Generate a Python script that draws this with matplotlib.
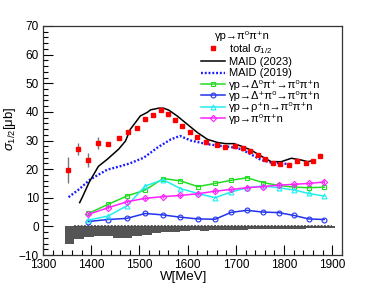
import matplotlib
matplotlib.use('Agg')
import matplotlib.pyplot as plt
from matplotlib.ticker import MultipleLocator
from matplotlib.lines import Line2D
import numpy as np

plt.rcParams['font.family'] = ['Liberation Sans', 'DejaVu Sans']
plt.rcParams['mathtext.fontset'] = 'custom'
plt.rcParams['mathtext.rm'] = 'Liberation Sans'
plt.rcParams['mathtext.it'] = 'Liberation Sans:italic'

# total sigma_1/2 data
W_tot = [1351, 1372, 1393, 1414, 1435, 1457, 1476, 1495, 1512, 1528, 1545, 1559, 1573, 1589, 1604, 1619,
         1639, 1660, 1678, 1699, 1714, 1730, 1745, 1760, 1776, 1792, 1810, 1826, 1846, 1860, 1874]
sig_tot = [19.6, 27.0, 23.2, 29.1, 28.9, 30.9, 32.8, 34.2, 37.4, 38.9, 40.8, 39.3, 37.3, 35.0, 33.0, 31.2,
           29.5, 28.6, 27.7, 28.0, 27.5, 26.3, 24.8, 23.4, 22.3, 21.7, 21.4, 23.0, 22.3, 22.8, 24.6]
err_tot = [4.5, 2.2, 2.5, 2.2] + [0.5] * 27

# MAID 2023
W_m23 = [1376, 1381, 1396, 1415, 1433, 1457, 1471, 1481, 1502, 1516, 1523, 1540, 1550, 1561, 1578,
         1599, 1620, 1641, 1662, 1679, 1696, 1710, 1731, 1752, 1773, 1794, 1815, 1835, 1849, 1863]
sig_m23 = [8.3, 10.0, 15.5, 21.0, 23.4, 27.0, 29.8, 33.9, 38.6, 39.8, 40.7, 41.3, 41.3, 40.6, 38.6,
           35.7, 32.8, 30.4, 29.3, 28.9, 28.9, 28.1, 26.7, 24.6, 22.6, 22.6, 23.8, 23.2, 22.6, 23.1]

# MAID 2019
W_m19 = [1353, 1375, 1398, 1433, 1460, 1480, 1509, 1537, 1565, 1584, 1606, 1625, 1641, 1669, 1690,
         1710, 1731, 1752, 1773, 1794, 1815]
sig_m19 = [10.2, 13.0, 16.4, 19.8, 21.0, 22.0, 24.0, 27.5, 30.4, 31.6, 30.0, 29.3, 28.7, 28.1, 27.7,
           27.0, 25.2, 23.2, 22.3, 22.0, 21.7]

# channel decomposition
W_ch = [1394, 1435, 1474, 1512, 1549, 1585, 1621, 1657, 1690, 1723, 1756, 1789, 1821, 1851, 1883]
delta0_pip = [4.5, 7.7, 10.6, 12.7, 16.7, 15.9, 13.9, 15.0, 16.1, 17.0, 15.3, 14.3, 13.7, 13.5, 13.7]
deltap_pi0 = [1.7, 2.4, 2.8, 4.5, 4.0, 3.2, 2.6, 2.5, 4.9, 5.6, 5.0, 4.8, 3.8, 2.6, 2.4]
rhop_n = [2.2, 3.6, 7.2, 14.1, 16.3, 13.2, 11.5, 10.0, 12.0, 13.5, 14.1, 13.5, 12.7, 11.5, 10.6]
pi0pip_n = [4.2, 6.5, 8.6, 9.8, 10.4, 10.8, 11.4, 12.3, 12.9, 13.5, 13.9, 14.4, 14.7, 15.0, 15.5]
err_pi0pip_n = [0.6] * 15

# systematic band (histogram below zero)
sys_edges = np.arange(1345, 1906, 20)
sys_vals = [-6.0, -4.4, -3.8, -3.4, -3.5, -4.0, -4.0, -3.5, -3.0, -2.3, -2.0, -1.8, -1.6, -1.4,
            -1.5, -1.4, -1.3, -1.2, -1.1, -1.0, -1.0, -0.9, -0.9, -0.8, -0.8, -0.7, -0.7, -0.7]

fig = plt.figure(figsize=(3.74, 2.88), dpi=100)
ax = fig.add_axes([43 / 374, 33 / 288, 299 / 374, 229 / 288])

ax.fill_between(sys_edges, np.append(sys_vals, sys_vals[-1]), 0, step='post',
                color='#555555', lw=0)
ax.plot([1365, 1900], [0, 0], color='#444444', lw=1.2, ls=(0, (1.2, 0.8)))

ax.plot(W_m19, sig_m19, color='#1a1aff', lw=1.7, ls=(0, (0.8, 0.8)))
ax.plot(W_m23, sig_m23, color='black', lw=1.1)

ax.plot(W_ch, delta0_pip, color='#22dd22', lw=1.1, marker='s', ms=3.5, mfc='none', mew=0.8)
ax.plot(W_ch, deltap_pi0, color='#2233ee', lw=1.1, marker='o', ms=3.5, mfc='none', mew=0.8)
ax.plot(W_ch, rhop_n, color='#22eeee', lw=1.1, marker='^', ms=3.5, mfc='none', mew=0.8)
ax.errorbar(W_ch, pi0pip_n, yerr=err_pi0pip_n, color='#ff22ff', lw=1.1, marker='D', ms=3.2,
            mfc='none', mew=0.8, elinewidth=0.8, capsize=0)

ax.errorbar(W_tot, sig_tot, yerr=err_tot, fmt='s', color='red', ms=3, ecolor='#777777',
            elinewidth=1.0, capsize=0, zorder=5)

ax.set_xlim(1300, 1920)
ax.set_ylim(-10, 70)
ax.xaxis.set_major_locator(MultipleLocator(100))
ax.xaxis.set_minor_locator(MultipleLocator(20))
ax.yaxis.set_major_locator(MultipleLocator(10))
ax.yaxis.set_minor_locator(MultipleLocator(2))
ax.tick_params(which='both', direction='in', top=False, right=False, labelsize=8.5, pad=3)
ax.tick_params(which='major', length=7, width=0.8)
ax.tick_params(which='minor', length=3.5, width=0.8)
for s in ax.spines.values():
    s.set_linewidth(0.9)
    s.set_color('#333333')

ax.set_xlabel('W[MeV]', fontsize=9.5)
ax.xaxis.set_label_coords(0.47, -0.07)
ax.set_ylabel(r'$\sigma_{1/2}$[μb]', fontsize=9.5)
ax.yaxis.set_label_coords(-0.085, 0.55)

handles = [
    Line2D([], [], ls='none', marker='s', color='red', ms=3),
    Line2D([], [], color='black', lw=1.1),
    Line2D([], [], color='#1a1aff', lw=1.7, ls=(0, (0.8, 0.8))),
    Line2D([], [], color='#22dd22', lw=1.1, marker='s', ms=3.5, mfc='none', mew=0.8),
    Line2D([], [], color='#2233ee', lw=1.1, marker='o', ms=3.5, mfc='none', mew=0.8),
    Line2D([], [], color='#22eeee', lw=1.1, marker='^', ms=3.5, mfc='none', mew=0.8),
    Line2D([], [], color='#ff22ff', lw=1.1, marker='D', ms=3.2, mfc='none', mew=0.8),
]
labels = [r'total $\sigma_{1/2}$', 'MAID (2023)', 'MAID (2019)',
          'γp→Δ⁰π⁺→π⁰π⁺n', 'γp→Δ⁺π⁰→π⁰π⁺n', 'γp→ρ⁺n→π⁰π⁺n', 'γp→π⁰π⁺n']
ax.text(215 / 374, 1 - 36 / 288, 'γp→π⁰π⁺n', transform=fig.transFigure, fontsize=8,
        va='center', ha='left')
fig.legend(handles, labels, loc='upper left', bbox_to_anchor=(201 / 374, 1 - 42 / 288),
           frameon=False, fontsize=8, handlelength=2.2, handletextpad=0.3,
           labelspacing=0.12, borderpad=0, borderaxespad=0)

fig.savefig('out.png', dpi=100)
